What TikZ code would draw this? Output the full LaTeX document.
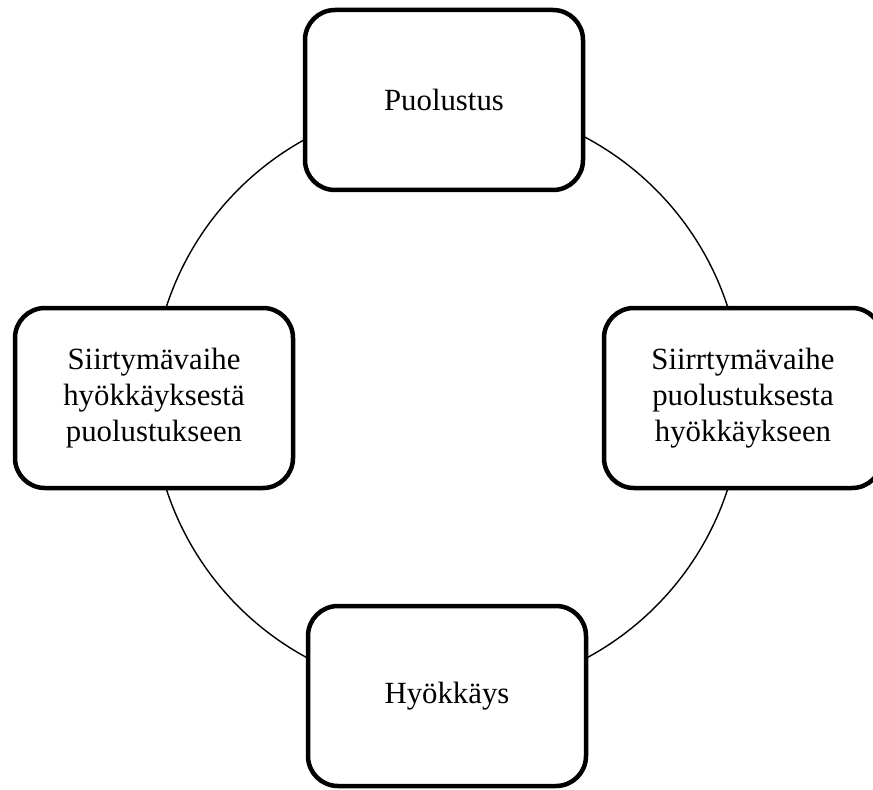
\documentclass[tikz,border=0pt]{standalone}
\usepackage{fontspec}
\setmainfont{Liberation Serif}
\usetikzlibrary{positioning}

\begin{document}
\begin{tikzpicture}[x=0.5pt, y=0.5pt,
            every node/.style={
            draw,
            fill=white,
            line width=2.25pt,
            rounded corners=15pt,
            minimum width=139pt,
            minimum height=90pt,
            align=center,
            font=\fontsize{15.4}{18}\selectfont}]
            \useasboundingbox (0,0) rectangle (873,789);
            \coordinate (c) at (447,391);
            \draw[line width=0.7pt] (c) circle (295);
            \node (puol) at (444,689) {Puolustus};
            \node (siirtoP) at (743,391) {Siirrtymävaihe\\puolustuksesta\\hyökkäykseen};
            \node (hyok) at (447,93) {Hyökkäys};
            \node (siirtoH) at (154,391) {Siirtymävaihe\\hyökkäyksestä\\puolustukseen};
        \end{tikzpicture}
\end{document}
